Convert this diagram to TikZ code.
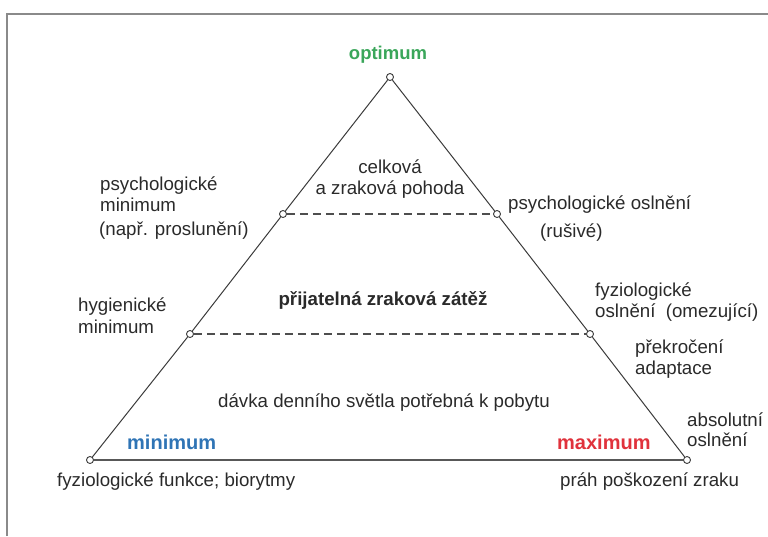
\documentclass[tikz,border=0pt]{standalone}
\usepackage{fontspec}
\setmainfont{Liberation Sans}
\definecolor{textc}{HTML}{2A2A2A}
\definecolor{linec}{HTML}{3A3A3A}
\definecolor{framec}{HTML}{8A8A8A}
\definecolor{optc}{HTML}{3AA65A}
\definecolor{minc}{HTML}{2F74B5}
\definecolor{maxc}{HTML}{E0323C}
\begin{document}
\begin{tikzpicture}[x=1pt,y=-1pt,
  txt/.style={font=\fontsize{18.7}{21.5}\selectfont, text=textc, inner sep=0pt},
  lbl/.style={txt, align=left, anchor=west},
  bigbold/.style={font=\fontsize{20}{22}\selectfont\bfseries, inner sep=0pt, anchor=west},
  pt/.style={circle, draw=linec, fill=white, inner sep=0pt, minimum size=7pt, line width=0.9pt},
  side/.style={draw=linec, line width=1pt},
  baseline/.style={draw=linec!85, line width=2.2pt},
  level/.style={draw=linec!90, dash pattern=on 8pt off 5pt, line width=1.3pt}]
\useasboundingbox (0,0) rectangle (768,536);
% frame
\coordinate (f1) at (7,536);
\coordinate (f2) at (7,14);
\coordinate (f3) at (768,14);
\draw[framec, line width=1.6pt] (f1) -- (f2) -- (f3);
% points
\node[pt] (A)  at (390,77) {};
\node[pt] (BL) at (90,460) {};
\node[pt] (BR) at (687,460) {};
\node[pt] (PL) at (283,214) {};
\node[pt] (PR) at (497,214) {};
\node[pt] (HL) at (190,334) {};
\node[pt] (HR) at (590,334) {};
% lines
\draw[side] (BL) -- (HL);
\draw[side] (HL) -- (PL);
\draw[side] (PL) -- (A);
\draw[side] (A) -- (PR);
\draw[side] (PR) -- (HR);
\draw[side] (HR) -- (BR);
\draw[baseline] (BL) -- (BR);
\draw[level] (PL) -- (PR);
\draw[level] (HL) -- (HR);
% labels
\node[txt, font=\fontsize{18.5}{21.5}\selectfont\bfseries, text=optc] (opt) at (388,55) {optimum};
\node[txt, align=center] (pohoda) at (390,179) {celková\\a zraková pohoda};
\node[txt, font=\fontsize{18.7}{21.5}\selectfont\bfseries] (zatez) at (383,300) {přijatelná zraková zátěž};
\node[txt] (davka) at (384,403) {dávka denního světla potřebná k pobytu};
\node[lbl] (psymin) at (100,194) {psychologické\\minimum};
\node[lbl] (napr) at (99,231) {(např. proslunění)};
\node[lbl] (hygmin) at (78,315.5) {hygienické\\minimum};
\node[lbl] (psyosl) at (508,205) {psychologické oslnění};
\node[lbl] (rusive) at (540,233) {(rušivé)};
\node[lbl] (fyzosl) at (595,302) {fyziologické\\oslnění\ \ (omezující)};
\node[lbl] (prekr) at (635,359) {překročení\\adaptace};
\node[lbl, font=\fontsize{18.7}{20}\selectfont] (absosl) at (687,430) {absolutní\\oslnění};
\node[bigbold, text=minc] (minimum) at (127,442) {minimum};
\node[bigbold, text=maxc] (maximum) at (557,442) {maximum};
\node[lbl] (fyzfun) at (57,482) {fyziologické funkce; biorytmy};
\node[lbl] (prah) at (560,482) {práh poškození zraku};
\end{tikzpicture}
\end{document}
